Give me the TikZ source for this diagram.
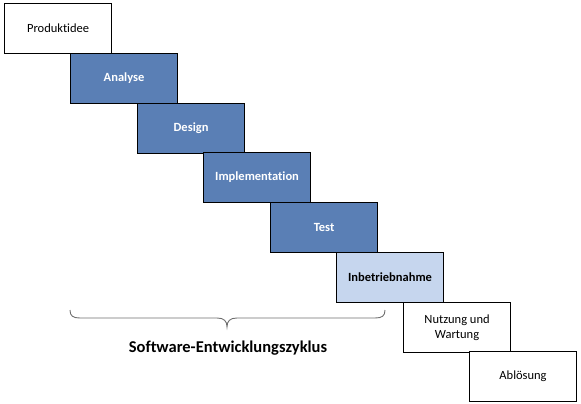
\documentclass[tikz,border=0pt]{standalone}
\usepackage{fontspec}
\setmainfont{Carlito}[Ligatures={NoCommon,NoRequired,NoContextual}]
\definecolor{stepblue}{HTML}{5A7FB5}
\definecolor{steplight}{HTML}{C6D6EE}
\definecolor{bracegray}{HTML}{6E6E6E}
\begin{document}
\begin{tikzpicture}[x=1pt,y=-1pt,
  phase/.style={draw=black,line width=1.1pt,minimum width=107pt,minimum height=50pt,inner sep=1pt,align=center,anchor=north west,font=\fontsize{12.5}{14.5}\selectfont},
  plain/.style={phase,fill=white,text=black},
  dark/.style={phase,fill=stepblue,text=white,font=\fontsize{12.5}{14.5}\selectfont\bfseries},
  light/.style={phase,fill=steplight,text=black,font=\fontsize{12.5}{14.5}\selectfont\bfseries}]
\useasboundingbox (0,0) rectangle (581,404);
\node[plain] (p) at (4,3) {Produktidee};
\node[dark] (a) at (70,53) {Analyse};
\node[dark] (d) at (137,103) {Design};
\node[dark] (i) at (203,152) {Implementation};
\node[dark] (t) at (270,202) {Test};
\node[light] (b) at (336,252) {Inbetriebnahme};
\node[plain] (n) at (403,302) {Nutzung und\\Wartung};
\node[plain] (l) at (469,351) {Ablösung};
\coordinate (bl) at (70,310);
\coordinate (br) at (385,310);
\coordinate (bt) at (227,327);
\draw[bracegray,line width=0.9pt] (bl) .. controls (70,316) and (73,318) .. (80,318) -- (217,318) .. controls (224,318) and (227,321) .. (bt)
  .. controls (227,321) and (230,318) .. (237,318) -- (375,318) .. controls (382,318) and (385,316) .. (br);
\node[font=\fontsize{16.5}{18}\selectfont\bfseries] (s) at (228,348) {Software-Entwicklungszyklus};
\end{tikzpicture}
\end{document}
